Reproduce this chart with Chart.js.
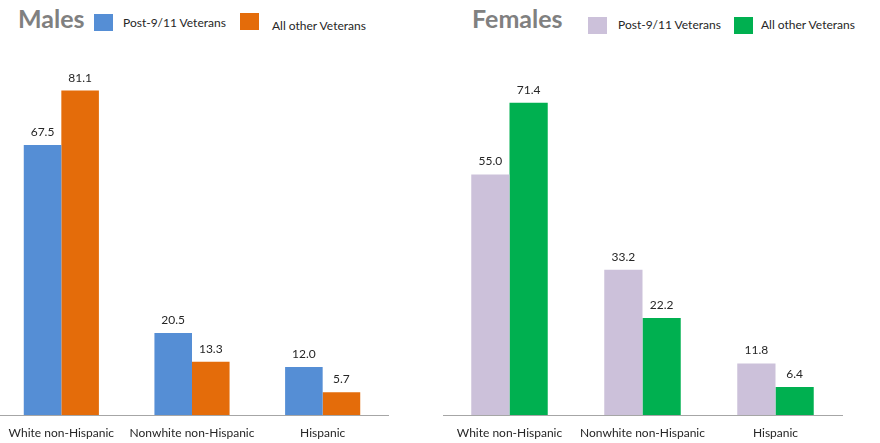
<!DOCTYPE html>
<html>
<head>
<meta charset="utf-8">
<script src="https://cdn.jsdelivr.net/npm/chart.js@4.4.0/dist/chart.umd.min.js"></script>
<style>
  body { margin: 0; background: #fff; width: 880px; height: 443px; overflow: hidden; position: relative; font-family: Lato, sans-serif; }
  .title { position: absolute; font-weight: bold; font-size: 25px; color: #808080; }
  .box { position: absolute; width: 19px; height: 17px; }
  .lbl { position: absolute; font-size: 12px; color: #262626; white-space: nowrap; }
  canvas { position: absolute; top: 0; }
</style>
</head>
<body>
<div class="title" style="left:18px;top:3px" id="tMale"></div>
<div class="box" id="bMale0" style="left:94px;top:14px"></div>
<div class="lbl" id="lMale0" style="left:123px;top:15px"></div>
<div class="box" id="bMale1" style="left:240px;top:13px"></div>
<div class="lbl" id="lMale1" style="left:272px;top:18px"></div>

<div class="title" style="left:472px;top:3px" id="tFemale"></div>
<div class="box" id="bFemale0" style="left:588px;top:17px"></div>
<div class="lbl" id="lFemale0" style="left:618px;top:17px"></div>
<div class="box" id="bFemale1" style="left:734px;top:17px"></div>
<div class="lbl" id="lFemale1" style="left:761px;top:17px"></div>

<div style="position:absolute;left:-4px;top:0;width:444px;height:443px"><canvas id="chartMale"></canvas></div>
<div style="position:absolute;left:440px;top:0;width:440px;height:443px"><canvas id="chartFemale"></canvas></div>

<script>
var categories = ["White non-Hispanic", "Nonwhite non-Hispanic", "Hispanic"];
var seriesNames = ["Post-9/11 Veterans", "All other Veterans"];
var malePost911 = [67.5, 20.5, 12.0];
var maleOther = [81.1, 13.3, 5.7];
var femalePost911 = [55.0, 33.2, 11.8];
var femaleOther = [71.4, 22.2, 6.4];

var maleColors = ["#558ed5", "#e46c0a"];
var femaleColors = ["#ccc1da", "#00b050"];

// value labels above each bar
var valueLabels = {
    id: "valueLabels",
    afterDatasetsDraw: function (chart) {
        var ctx = chart.ctx;
        ctx.save();
        ctx.font = "12px Lato";
        ctx.fillStyle = "#262626";
        ctx.textAlign = "center";
        ctx.textBaseline = "alphabetic";
        chart.data.datasets.forEach(function (ds, i) {
            chart.getDatasetMeta(i).data.forEach(function (bar, j) {
                ctx.fillText(ds.data[j].toFixed(1), bar.x, bar.y - 9);
            });
        });
        ctx.restore();
    }
};

function makeChart(id, title, a, b, colors, yMax, pad) {
    document.getElementById("t" + id).textContent = title;
    for (var k = 0; k < 2; k++) {
        document.getElementById("b" + id + k).style.background = colors[k];
        document.getElementById("l" + id + k).textContent = seriesNames[k];
    }

    var canvas = document.getElementById("chart" + id);
    return new Chart(canvas, {
        type: "bar",
        data: {
            labels: categories,
            datasets: [
                { label: seriesNames[0], data: a, backgroundColor: colors[0] },
                { label: seriesNames[1], data: b, backgroundColor: colors[1] }
            ]
        },
        options: {
            animation: false,
            responsive: true,
            maintainAspectRatio: false,
            devicePixelRatio: 1,
            layout: { padding: pad },
            datasets: { bar: { categoryPercentage: 0.575, barPercentage: 1 } },
            plugins: { legend: { display: false }, tooltip: { enabled: false } },
            scales: {
                x: {
                    grid: { display: false, drawTicks: false },
                    border: { display: true, color: "#a6a6a6", width: 1 },
                    ticks: { color: "#262626", font: { family: "Lato", size: 12 }, padding: 11, maxRotation: 0 },
                    afterFit: function (scale) { scale.height = 28; }
                },
                y: { display: false, min: 0, max: yMax }
            }
        },
        plugins: [valueLabels]
    });
}

makeChart("Male", "Males", malePost911, maleOther, maleColors, 90, { top: 55, left: 0, right: 52, bottom: 0 });
makeChart("Female", "Females", femalePost911, femaleOther, femaleColors, 80, { top: 65, left: 3, right: 38, bottom: 0 });
</script>
</body>
</html>
